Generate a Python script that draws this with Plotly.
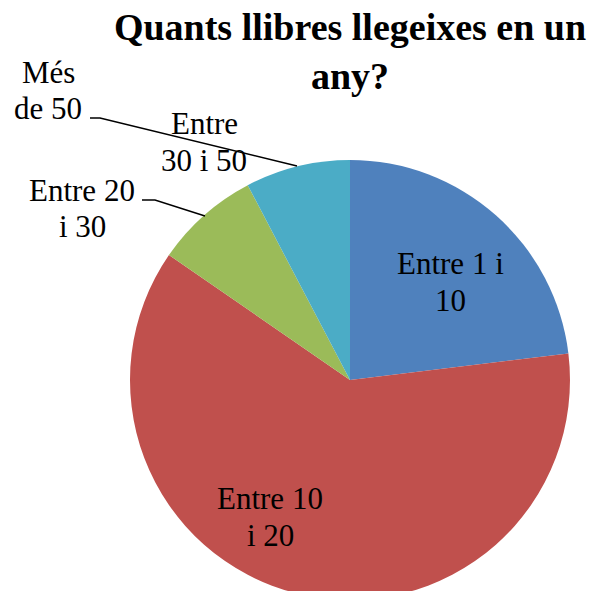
import plotly.graph_objects as go

# ---- data ----
categories = ["Entre 1 i 10", "Entre 10 i 20", "Entre 20 i 30", "Entre 30 i 50", "Més de 50"]
values = [3, 8, 1, 1, 0]
label_lines = [["Entre 1 i", "10"], ["Entre 10", "i 20"], ["Entre 20", "i 30"],
               ["Entre", "30 i 50"], ["Més", "de 50"]]
colors = ["#4F81BD", "#C0504D", "#9BBB59", "#4BACC6", "#F79646"]
title_text = "Quants llibres llegeixes en un<br>any?"

W, H = 590, 600
FONT = "Liberation Serif, Times New Roman, serif"

def px(x):
    return x / W

def py(y):
    return 1 - y / H

fig = go.Figure(go.Pie(
    labels=categories,
    values=values,
    sort=False,
    direction="clockwise",
    rotation=0,
    marker=dict(colors=colors, line=dict(width=0)),
    textinfo="none",
    hoverinfo="label+value+percent",
    showlegend=False,
    domain=dict(x=[px(350 - 220), px(350 + 220)], y=[0, 440 / H]),
))

# label placement (pixel positions: centre x, baselines of each line)
label_pos = [
    (450, [273, 310]),
    (270, [508, 545]),
    (82, [200, 236]),
    (204, [133, 170]),
    (48, [82, 118]),
]
fs = 31
annotations = []
for lines, (cx, baselines) in zip(label_lines, label_pos):
    for line, b in zip(lines, baselines):
        annotations.append(dict(
            text=line, x=px(cx), y=py(b - 0.316 * fs), xref="paper", yref="paper",
            xanchor="center", yanchor="middle", showarrow=False,
            font=dict(family=FONT, size=fs, color="black"),
        ))

# leader lines
def path(points):
    return "M " + " L ".join(f"{px(x)},{py(y)}" for x, y in points)

shapes = [
    dict(type="path", xref="paper", yref="paper",
         path=path([(90, 118), (100, 118), (297, 166)]),
         line=dict(color="black", width=1.5)),
    dict(type="path", xref="paper", yref="paper",
         path=path([(142, 200), (155, 200), (205, 216)]),
         line=dict(color="black", width=1.5)),
]

fig.update_layout(
    width=W, height=H,
    margin=dict(l=0, r=0, t=0, b=0),
    paper_bgcolor="white", plot_bgcolor="white",
    title=dict(text="<b>" + title_text + "</b>", x=350 / W, xanchor="center",
               xref="paper", y=1 - 40 / H, yanchor="top", yref="container",
               font=dict(family=FONT, size=38, color="black")),
    annotations=annotations,
    shapes=shapes,
)

fig.write_html("out.html", config={"displayModeBar": False},
               post_script="document.body.style.margin='0';document.body.style.overflow='hidden';")
